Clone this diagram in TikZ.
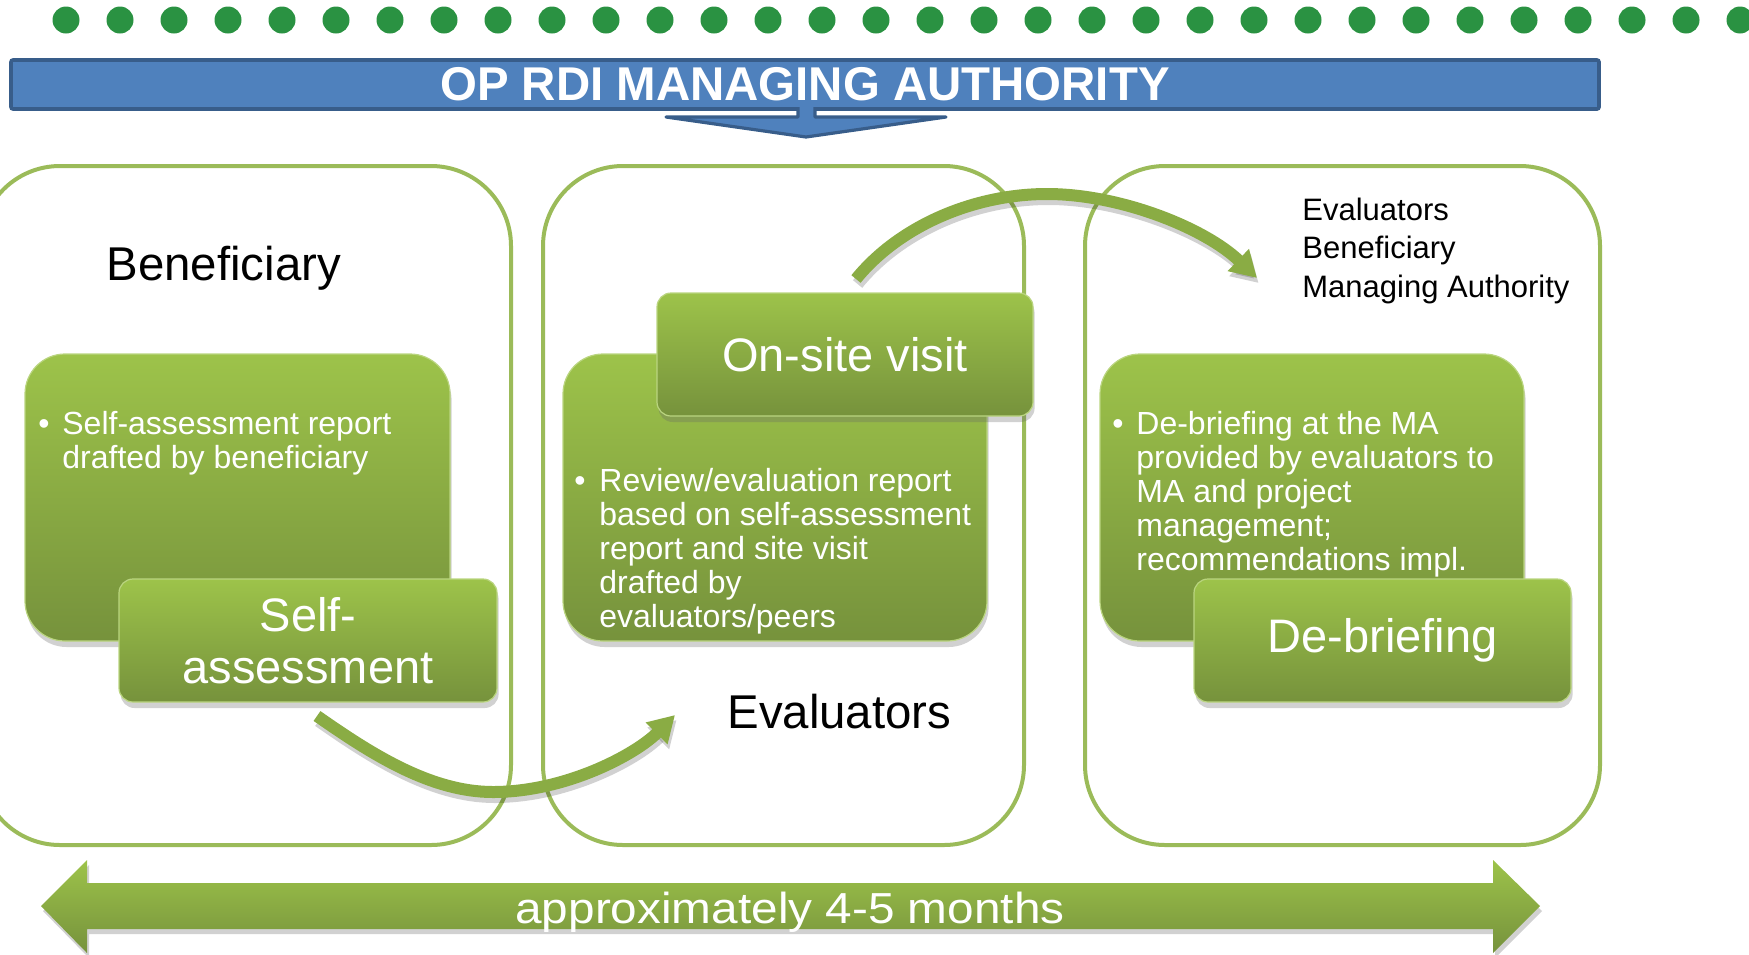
\documentclass[tikz,border=0pt]{standalone}
\usepackage{fontspec}
\setmainfont{Liberation Sans}
\usepackage{graphicx}
\usetikzlibrary{arrows.meta,shadows}
\definecolor{dotgreen}{RGB}{42,146,66}
\definecolor{bannerfill}{RGB}{79,129,189}
\definecolor{bannerline}{RGB}{56,93,138}
\definecolor{contline}{RGB}{155,187,89}
\definecolor{gtop}{RGB}{157,195,74}
\definecolor{gbot}{RGB}{118,146,60}
\definecolor{gmid}{RGB}{138,172,68}
\tikzset{
  container/.style={draw=contline, line width=2pt, rounded corners=40pt},
  gbox/.style={rectangle, rounded corners=#1, top color=gtop, bottom color=gbot,
    draw=gtop!70!white, line width=0.6pt, inner sep=0pt, text=white,
    drop shadow={shadow xshift=0.8pt, shadow yshift=-3pt, opacity=0.3, fill=black!60}},
  biglabel/.style={font=\fontsize{23.5}{26}\selectfont, align=center},
  bullettxt/.style={anchor=base west, inner sep=0pt, text=white, font=\fontsize{16}{17}\selectfont},
  blacklabel/.style={anchor=base west, inner sep=0pt, text=black},
  curvarrow/.style={draw=gmid, line width=6pt, -{Triangle[length=13pt,width=14.5pt]}},
  arrowshadow/.style={draw=black, opacity=0.18, line width=6pt, -{Triangle[length=13pt,width=14.5pt]}},
  banner/.style={rectangle, fill=bannerfill, draw=bannerline, line width=1.8pt, rounded corners=1pt,
    minimum width=794pt, minimum height=24.5pt, inner sep=0pt, text=white,
    font=\bfseries\fontsize{23.7}{28}\selectfont}
}
\begin{document}
\begin{tikzpicture}[x=0.5pt, y=-0.5pt]
\useasboundingbox (0,0) rectangle (1749,954);

% dotted row
\foreach \i in {0,...,31} \fill[dotgreen] ({66+54*\i},20) circle[radius=6.75pt];

% banner
\node[banner] (title) at (805,84.5) {OP RDI MANAGING AUTHORITY};
\fill[bannerfill] (798,107) -- (798,117) -- (666,117) -- (806,137) -- (946,117) -- (815,117) -- (815,107) -- cycle;
\draw[bannerline, line width=1.6pt, line join=round] (798,107) -- (798,117) -- (666,117) -- (806,137) -- (946,117) -- (815,117) -- (815,107);

% containers
\draw[container] (-20,166) rectangle (511,845);
\draw[container] (543,166) rectangle (1024,845);
\draw[container] (1085,166) rectangle (1600,845);

% labels
\node[blacklabel, font=\fontsize{23.7}{27}\selectfont] (lbBen) at (106,280) {Beneficiary};
\node[blacklabel, font=\fontsize{23.7}{27}\selectfont] (lbEva) at (727,728) {Evaluators};
\node[blacklabel, font=\fontsize{15.5}{19.25}\selectfont] (lbAll) at (1302,220)
  {\parbox[t]{200pt}{Evaluators\\Beneficiary\\Managing Authority}};

% green boxes column 1
\node[gbox=20pt, minimum width=212.5pt, minimum height=143.5pt] (boxA) at (237.5,497.5) {};
\node[bullettxt] (bA) at (38,434) {\textbullet};
\node[bullettxt] (tA) at (62,434) {\parbox[t]{220pt}{Self-assessment report\\drafted by beneficiary}};
\node[gbox=7pt, minimum width=189pt, minimum height=61.5pt, biglabel] (boxB) at (308,640.5) {Self-\\assessment};

% column 2
\node[gbox=20pt, minimum width=212pt, minimum height=143.5pt] (boxC) at (775,497.5) {};
\node[bullettxt] (bC) at (574,491) {\textbullet};
\node[bullettxt] (tC) at (599,491) {\parbox[t]{220pt}{Review/evaluation report\\based on self-assessment\\report and site visit\\drafted by\\evaluators/peers}};
\node[gbox=7pt, minimum width=188pt, minimum height=61.5pt, biglabel] (boxD) at (845,354.5) {On-site visit};

% column 3
\node[gbox=20pt, minimum width=212pt, minimum height=143.5pt] (boxE) at (1312,497.5) {};
\node[bullettxt] (bE) at (1112,434) {\textbullet};
\node[bullettxt] (tE) at (1136,434) {\parbox[t]{220pt}{De-briefing at the MA\\provided by evaluators to\\MA and project\\management;\\recommendations impl.}};
\node[gbox=7pt, minimum width=188.5pt, minimum height=61.5pt, biglabel] (boxF) at (1382.5,640.5) {De-briefing};

% curved arrows
\coordinate (a1s) at (317,716);
\coordinate (a1m) at (493,792);
\coordinate (a1e) at (675,715);
\coordinate (a2s) at (856,279);
\coordinate (a2m) at (1047,194);
\coordinate (a2e) at (1257,278);
\begin{scope}[transform canvas={shift={(0.8pt,-2.5pt)}}]
\draw[arrowshadow] (a1s) .. controls (370,753) and (430,792) .. (a1m) .. controls (565,792) and (635,755) .. (a1e);
\draw[arrowshadow] (a2s) .. controls (900,225) and (975,194) .. (a2m) .. controls (1120,194) and (1205,228) .. (a2e);
\end{scope}
\draw[curvarrow] (a1s) .. controls (370,753) and (430,792) .. (a1m) .. controls (565,792) and (635,755) .. (a1e);
\draw[curvarrow] (a2s) .. controls (900,225) and (975,194) .. (a2m) .. controls (1120,194) and (1205,228) .. (a2e);

% bottom double arrow
\fill[black, opacity=0.18] (43,911) -- (89,865) -- (89,888) -- (1495,888) -- (1495,865) -- (1542,911) -- (1495,958) -- (1495,934) -- (89,934) -- (89,958) -- cycle;
\shade[top color=gtop, bottom color=gbot] (41,906) -- (87,860) -- (87,883) -- (1493,883) -- (1493,860) -- (1540,906) -- (1493,953) -- (1493,929) -- (87,929) -- (87,953) -- cycle;
\node[anchor=base, inner sep=0pt, text=white, font=\fontsize{21.7}{26}\selectfont] (months) at (790,923)
  {\scalebox{1.10}[1]{approximately 4-5 months}};
\end{tikzpicture}
\end{document}
